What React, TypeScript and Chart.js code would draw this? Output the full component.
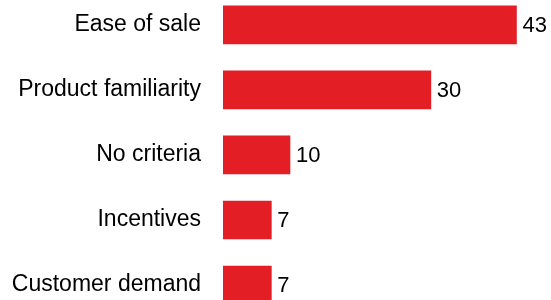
import React, { useEffect, useRef } from "react";
import { Chart, registerables } from "chart.js";

Chart.register(...registerables);

const categories = ["Ease of sale", "Product familiarity", "No criteria", "Incentives", "Customer demand"];
const values = [42.5, 30.1, 9.7, 7.0, 7.0];
const valueLabels = ["43", "30", "10", "7", "7"];

const BAR_COLOR = "#e31e24";
const FONT = "'Liberation Sans', Arial, Helvetica, sans-serif";
const Y_MIN = -0.382;
const Y_MAX = 4.2306;

const valueLabelPlugin = {
  id: "valueLabels",
  afterDatasetsDraw(chart: any) {
    const ctx = chart.ctx;
    const meta = chart.getDatasetMeta(0);
    ctx.save();
    ctx.font = `22px ${FONT}`;
    ctx.fillStyle = "#000000";
    ctx.textAlign = "left";
    ctx.textBaseline = "middle";
    meta.data.forEach((bar: any, i: number) => {
      ctx.fillText(valueLabels[i], bar.x + 6, bar.y + 1);
    });
    ctx.restore();
  },
};

export default function App() {
  const ref = useRef<HTMLCanvasElement | null>(null);
  useEffect(() => {
    if (!ref.current) return;
    const chart = new Chart(ref.current, {
      type: "bar",
      data: {
        datasets: [
          {
            data: values.map((v, i) => ({ x: v, y: i })),
            backgroundColor: BAR_COLOR,
            borderWidth: 0,
            barThickness: 38,
          },
        ],
      },
      options: {
        indexAxis: "y",
        animation: false,
        responsive: false,
        maintainAspectRatio: false,
        layout: { padding: 0 },
        plugins: { legend: { display: false }, tooltip: { enabled: false } },
        scales: {
          x: {
            type: "linear",
            display: false,
            min: 0,
            max: 47.5,
          },
          y: {
            type: "linear",
            reverse: true,
            offset: false,
            bounds: "data",
            min: Y_MIN,
            max: Y_MAX,
            grid: { display: false, drawTicks: false, offset: false },
            border: { display: false },
            afterDataLimits: (axis: any) => {
              axis.min = Y_MIN;
              axis.max = Y_MAX;
            },
            afterBuildTicks: (axis: any) => {
              axis.ticks = categories.map((_, i) => ({ value: i }));
              axis.min = Y_MIN;
              axis.max = Y_MAX;
            },
            afterFit: (axis: any) => {
              axis.width = 223;
              axis.paddingTop = 0;
              axis.paddingBottom = 0;
            },
            ticks: {
              padding: 22,
              color: "#000000",
              font: { family: FONT, size: 23 },
              callback: (v: any) => categories[Math.round(Number(v))] ?? "",
            },
          },
        },
      },
      plugins: [valueLabelPlugin],
    });
    return () => chart.destroy();
  }, []);
  return (
    <div style={{ position: "fixed", left: 0, top: 0, width: 551, height: 300, background: "#fff" }}>
      <canvas ref={ref} width={551} height={300} style={{ width: 551, height: 300, display: "block" }} />
    </div>
  );
}
